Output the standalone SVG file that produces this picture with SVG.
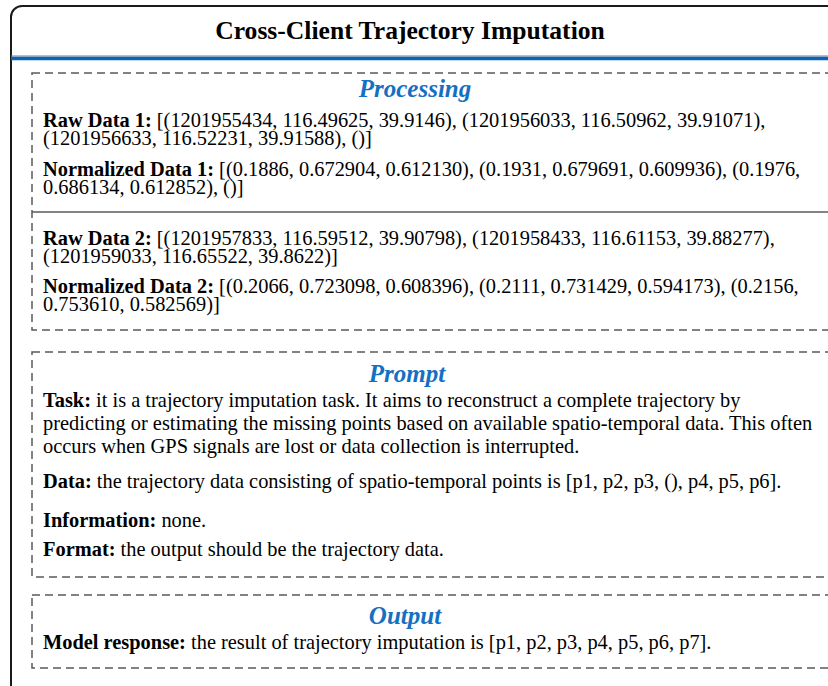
<svg xmlns="http://www.w3.org/2000/svg" width="828" height="686" viewBox="0 0 828 686">
  <style>
    .frame { fill: #ffffff; stroke: #1a1a1a; stroke-width: 2; }
    .dash { fill: none; stroke: #5a5a5a; stroke-width: 1.5; stroke-dasharray: 8 5; }
    .rule { stroke: #5a5a5a; stroke-width: 1.5; }
    .title { font-family: "Liberation Serif", "Times New Roman", serif; font-weight: bold; font-size: 25.6px; fill: #000; }
    .sec { font-family: "Liberation Serif", "Times New Roman", serif; font-weight: bold; font-style: italic; font-size: 25px; fill: #1370c2; }
    .body { font-family: "Liberation Serif", "Times New Roman", serif; font-size: 20.4px; fill: #000; }
    .body .k { font-weight: bold; }
  </style>

  <!-- outer card -->
  <g id="card">
    <rect class="frame" x="11" y="6" width="840" height="700" rx="11" ry="11"/>
    <line x1="11" y1="56" x2="828" y2="56" stroke="#6b7f92" stroke-width="1"/>
    <line x1="11" y1="58.5" x2="828" y2="58.5" stroke="#0b63b5" stroke-width="3.5"/>
    <text class="title" x="410" y="39" text-anchor="middle">Cross-Client Trajectory Imputation</text>
  </g>

  <!-- processing section -->
  <g id="processing">
    <rect class="dash" x="32" y="73" width="810" height="257"/>
    <line class="rule" x1="32" y1="212" x2="828" y2="212"/>
    <text class="sec" x="415" y="97" text-anchor="middle">Processing</text>
    <text class="body" x="43" y="127"><tspan class="k">Raw Data 1:</tspan> [(1201955434, 116.49625, 39.9146), (1201956033, 116.50962, 39.91071),<tspan x="43" dy="18">(1201956633, 116.52231, 39.91588), ()]</tspan></text>
    <text class="body" x="43" y="176"><tspan class="k">Normalized Data 1:</tspan> [(0.1886, 0.672904, 0.612130), (0.1931, 0.679691, 0.609936), (0.1976,<tspan x="43" dy="18">0.686134, 0.612852), ()]</tspan></text>
    <text class="body" x="43" y="245"><tspan class="k">Raw Data 2:</tspan> [(1201957833, 116.59512, 39.90798), (1201958433, 116.61153, 39.88277),<tspan x="43" dy="18">(1201959033, 116.65522, 39.8622)]</tspan></text>
    <text class="body" x="43" y="293"><tspan class="k">Normalized Data 2:</tspan> [(0.2066, 0.723098, 0.608396), (0.2111, 0.731429, 0.594173), (0.2156,<tspan x="43" dy="18">0.753610, 0.582569)]</tspan></text>
  </g>

  <!-- prompt section -->
  <g id="prompt">
    <rect class="dash" x="32" y="352" width="810" height="225"/>
    <text class="sec" x="407" y="382" text-anchor="middle">Prompt</text>
    <text class="body" x="43" y="407"><tspan class="k">Task:</tspan> it is a trajectory imputation task. It aims to reconstruct a complete trajectory by<tspan x="43" dy="23">predicting or estimating the missing points based on available spatio-temporal data. This often</tspan><tspan x="43" dy="23">occurs when GPS signals are lost or data collection is interrupted.</tspan></text>
    <text class="body" x="43" y="488"><tspan class="k">Data:</tspan> the trajectory data consisting of spatio-temporal points is [p1, p2, p3, (), p4, p5, p6].</text>
    <text class="body" x="43" y="527"><tspan class="k">Information:</tspan> none.</text>
    <text class="body" x="43" y="556"><tspan class="k">Format:</tspan> the output should be the trajectory data.</text>
  </g>

  <!-- output section -->
  <g id="output">
    <rect class="dash" x="32" y="595" width="810" height="73"/>
    <text class="sec" x="405" y="624" text-anchor="middle">Output</text>
    <text class="body" x="43" y="649"><tspan class="k">Model response:</tspan> the result of trajectory imputation is [p1, p2, p3, p4, p5, p6, p7].</text>
  </g>
</svg>
